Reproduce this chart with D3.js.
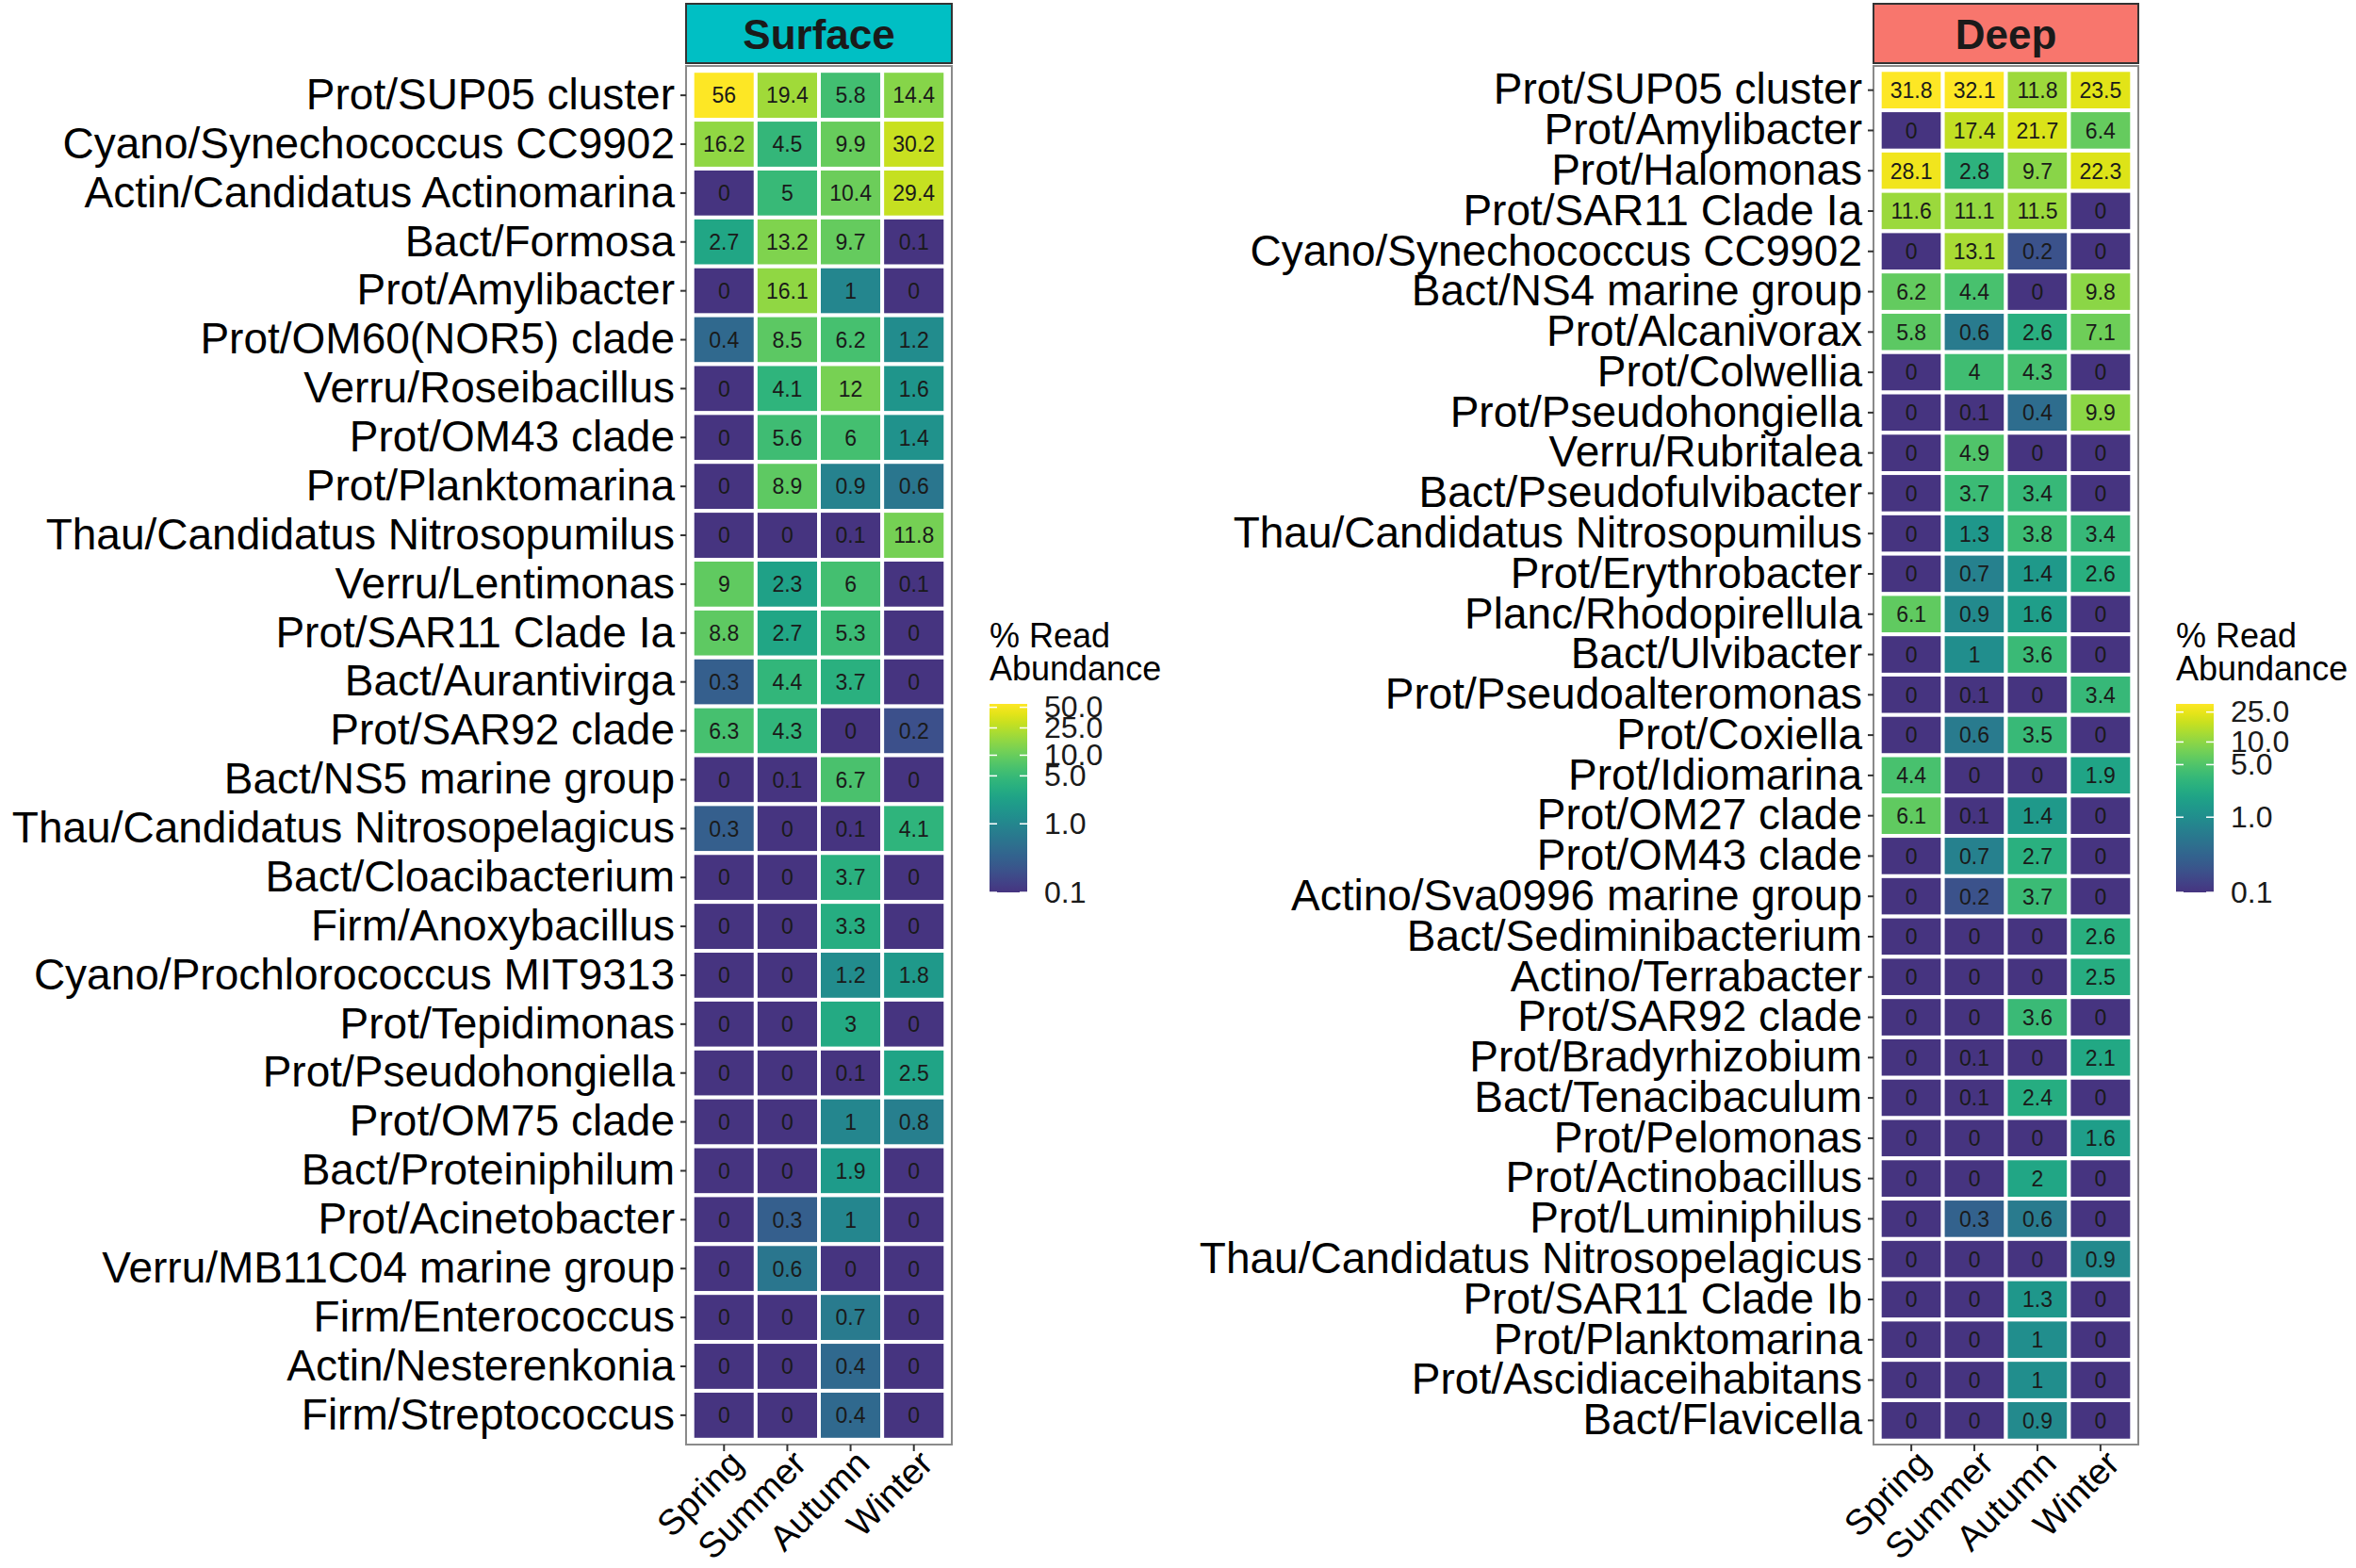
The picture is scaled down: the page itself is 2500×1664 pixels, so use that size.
<!DOCTYPE html>
<html>
<head>
<meta charset="utf-8">
<script src="https://cdn.jsdelivr.net/npm/d3@7"></script>
<style>
  body { margin: 0; background: #fff; }
  text { font-family: "Liberation Sans", Arial, sans-serif; }
</style>
</head>
<body>
<div id="chart"></div>
<script>

// seasons on the x axis
var seasons = ["Spring", "Summer", "Autumn", "Winter"];

// surface panel, top row first
var surfaceTaxa = [
  "Prot/SUP05 cluster", "Cyano/Synechococcus CC9902", "Actin/Candidatus Actinomarina",
  "Bact/Formosa", "Prot/Amylibacter", "Prot/OM60(NOR5) clade", "Verru/Roseibacillus",
  "Prot/OM43 clade", "Prot/Planktomarina", "Thau/Candidatus Nitrosopumilus",
  "Verru/Lentimonas", "Prot/SAR11 Clade Ia", "Bact/Aurantivirga", "Prot/SAR92 clade",
  "Bact/NS5 marine group", "Thau/Candidatus Nitrosopelagicus", "Bact/Cloacibacterium",
  "Firm/Anoxybacillus", "Cyano/Prochlorococcus MIT9313", "Prot/Tepidimonas",
  "Prot/Pseudohongiella", "Prot/OM75 clade", "Bact/Proteiniphilum", "Prot/Acinetobacter",
  "Verru/MB11C04 marine group", "Firm/Enterococcus", "Actin/Nesterenkonia", "Firm/Streptococcus"
];
var surfaceValues = [
  [56, 19.4, 5.8, 14.4], [16.2, 4.5, 9.9, 30.2], [0, 5, 10.4, 29.4],
  [2.7, 13.2, 9.7, 0.1], [0, 16.1, 1, 0], [0.4, 8.5, 6.2, 1.2], [0, 4.1, 12, 1.6],
  [0, 5.6, 6, 1.4], [0, 8.9, 0.9, 0.6], [0, 0, 0.1, 11.8],
  [9, 2.3, 6, 0.1], [8.8, 2.7, 5.3, 0], [0.3, 4.4, 3.7, 0], [6.3, 4.3, 0, 0.2],
  [0, 0.1, 6.7, 0], [0.3, 0, 0.1, 4.1], [0, 0, 3.7, 0],
  [0, 0, 3.3, 0], [0, 0, 1.2, 1.8], [0, 0, 3, 0],
  [0, 0, 0.1, 2.5], [0, 0, 1, 0.8], [0, 0, 1.9, 0], [0, 0.3, 1, 0],
  [0, 0.6, 0, 0], [0, 0, 0.7, 0], [0, 0, 0.4, 0], [0, 0, 0.4, 0]
];
var surfaceLegendTicks = [0.1, 1, 5, 10, 25, 50];

// deep panel, top row first
var deepTaxa = [
  "Prot/SUP05 cluster", "Prot/Amylibacter", "Prot/Halomonas", "Prot/SAR11 Clade Ia",
  "Cyano/Synechococcus CC9902", "Bact/NS4 marine group", "Prot/Alcanivorax", "Prot/Colwellia",
  "Prot/Pseudohongiella", "Verru/Rubritalea", "Bact/Pseudofulvibacter",
  "Thau/Candidatus Nitrosopumilus", "Prot/Erythrobacter", "Planc/Rhodopirellula",
  "Bact/Ulvibacter", "Prot/Pseudoalteromonas", "Prot/Coxiella", "Prot/Idiomarina",
  "Prot/OM27 clade", "Prot/OM43 clade", "Actino/Sva0996 marine group",
  "Bact/Sediminibacterium", "Actino/Terrabacter", "Prot/SAR92 clade", "Prot/Bradyrhizobium",
  "Bact/Tenacibaculum", "Prot/Pelomonas", "Prot/Actinobacillus", "Prot/Luminiphilus",
  "Thau/Candidatus Nitrosopelagicus", "Prot/SAR11 Clade Ib", "Prot/Planktomarina",
  "Prot/Ascidiaceihabitans", "Bact/Flavicella"
];
var deepValues = [
  [31.8, 32.1, 11.8, 23.5], [0, 17.4, 21.7, 6.4], [28.1, 2.8, 9.7, 22.3], [11.6, 11.1, 11.5, 0],
  [0, 13.1, 0.2, 0], [6.2, 4.4, 0, 9.8], [5.8, 0.6, 2.6, 7.1], [0, 4, 4.3, 0],
  [0, 0.1, 0.4, 9.9], [0, 4.9, 0, 0], [0, 3.7, 3.4, 0],
  [0, 1.3, 3.8, 3.4], [0, 0.7, 1.4, 2.6], [6.1, 0.9, 1.6, 0],
  [0, 1, 3.6, 0], [0, 0.1, 0, 3.4], [0, 0.6, 3.5, 0], [4.4, 0, 0, 1.9],
  [6.1, 0.1, 1.4, 0], [0, 0.7, 2.7, 0], [0, 0.2, 3.7, 0],
  [0, 0, 0, 2.6], [0, 0, 0, 2.5], [0, 0, 3.6, 0], [0, 0.1, 0, 2.1],
  [0, 0.1, 2.4, 0], [0, 0, 0, 1.6], [0, 0, 2, 0], [0, 0.3, 0.6, 0],
  [0, 0, 0, 0.9], [0, 0, 1.3, 0], [0, 0, 1, 0],
  [0, 0, 1, 0], [0, 0, 0.9, 0]
];
var deepLegendTicks = [0.1, 1, 5, 10, 25];

var W = 2500, H = 1664;
var svg = d3.select("#chart").append("svg")
  .attr("width", W).attr("height", H);

// the fill starts a little above the darkest viridis purple
function viridis(t) { return d3.interpolateViridis(0.15 + 0.85 * t); }

function drawPanel(opt) {
  var x = d3.scaleBand().domain(seasons)
    .range([opt.left, opt.left + opt.width]).paddingOuter(0.1);
  var y = d3.scaleBand().domain(opt.taxa)
    .range([opt.top, opt.bottom]).paddingOuter(0.1);
  var vmax = d3.max(opt.values, function (r) { return d3.max(r); });
  var color = d3.scaleSequentialLog(viridis).domain([0.1, vmax]).clamp(true);

  var cells = [];
  opt.taxa.forEach(function (t, i) {
    seasons.forEach(function (s, j) {
      cells.push({ taxon: t, season: s, value: opt.values[i][j] });
    });
  });

  var g = svg.append("g");

  // strip
  g.append("rect")
    .attr("x", opt.left).attr("y", 4)
    .attr("width", opt.width).attr("height", 63)
    .attr("fill", opt.stripColor)
    .attr("stroke", "#333").attr("stroke-width", 2);
  g.append("text")
    .attr("x", opt.left + opt.width / 2).attr("y", 36)
    .attr("dy", "0.36em")
    .attr("text-anchor", "middle")
    .style("font-size", "44px").style("font-weight", "bold")
    .attr("fill", "#1a1a1a")
    .text(opt.title);

  // tiles
  g.selectAll("rect.tile").data(cells).enter()
    .append("rect").attr("class", "tile")
    .attr("x", function (d) { return x(d.season); })
    .attr("y", function (d) { return y(d.taxon); })
    .attr("width", x.bandwidth())
    .attr("height", y.bandwidth())
    .attr("fill", function (d) { return color(Math.max(d.value, 0.1)); })
    .attr("stroke", "#fff").attr("stroke-width", 4);

  g.selectAll("text.val").data(cells).enter()
    .append("text").attr("class", "val")
    .attr("x", function (d) { return x(d.season) + x.bandwidth() / 2; })
    .attr("y", function (d) { return y(d.taxon) + y.bandwidth() / 2; })
    .attr("dy", "0.36em")
    .attr("text-anchor", "middle")
    .style("font-size", "23px")
    .attr("fill", "#1a1a1a")
    .text(function (d) { return d.value; });

  // panel border
  g.append("rect")
    .attr("x", opt.left).attr("y", opt.top)
    .attr("width", opt.width).attr("height", opt.bottom - opt.top)
    .attr("fill", "none").attr("stroke", "#8a8a8a").attr("stroke-width", 2);

  // y axis
  var ya = g.append("g")
    .attr("transform", "translate(" + opt.left + ",0)")
    .call(d3.axisLeft(y).tickSize(6).tickPadding(6));
  ya.select(".domain").remove();
  ya.selectAll("line").attr("stroke", "#333").attr("stroke-width", 2);
  ya.selectAll("text")
    .style("font-size", "46px").style("font-family", "'Liberation Sans', Arial, sans-serif")
    .attr("fill", "#000");

  // x axis
  var xa = g.append("g")
    .attr("transform", "translate(0," + opt.bottom + ")")
    .call(d3.axisBottom(x).tickSize(7).tickPadding(0));
  xa.select(".domain").remove();
  xa.selectAll("line").attr("stroke", "#333").attr("stroke-width", 2);
  xa.selectAll("text")
    .style("font-size", "38px").style("font-family", "'Liberation Sans', Arial, sans-serif")
    .attr("fill", "#000")
    .attr("text-anchor", "end")
    .attr("y", 0).attr("dy", "0.72em")
    .attr("transform", "translate(3,3) rotate(-45)");

  // legend
  var lg = svg.append("g");
  lg.append("text").attr("x", opt.legendX).attr("y", 687)
    .style("font-size", "36px").attr("fill", "#000").text("% Read");
  lg.append("text").attr("x", opt.legendX).attr("y", 722)
    .style("font-size", "36px").attr("fill", "#000").text("Abundance");

  var barTop = 747, barBot = 947, barW = 40;
  var gid = "grad" + opt.title;
  var grad = svg.append("defs").append("linearGradient")
    .attr("id", gid).attr("x1", 0).attr("y1", 1).attr("x2", 0).attr("y2", 0);
  d3.range(0, 1.0001, 0.05).forEach(function (t) {
    grad.append("stop").attr("offset", t).attr("stop-color", viridis(t));
  });
  lg.append("rect")
    .attr("x", opt.legendX).attr("y", barTop)
    .attr("width", barW).attr("height", barBot - barTop)
    .attr("fill", "url(#" + gid + ")");

  var ls = d3.scaleLog().domain([0.1, vmax]).range([barBot, barTop]);
  var la = lg.append("g")
    .attr("transform", "translate(" + (opt.legendX + barW) + ",0)")
    .call(d3.axisRight(ls).tickValues(opt.legendTicks)
      .tickFormat(d3.format(".1f")).tickSize(0).tickPadding(18));
  la.select(".domain").remove();
  la.selectAll("text")
    .style("font-size", "32px").style("font-family", "'Liberation Sans', Arial, sans-serif")
    .attr("fill", "#1a1a1a");

  // white tick marks on both edges of the bar
  opt.legendTicks.forEach(function (v) {
    [[0, 8], [barW - 8, barW]].forEach(function (p) {
      lg.append("line")
        .attr("x1", opt.legendX + p[0]).attr("x2", opt.legendX + p[1])
        .attr("y1", ls(v)).attr("y2", ls(v))
        .attr("stroke", "#fff").attr("stroke-width", 1.5);
    });
  });
}

drawPanel({
  title: "Surface", stripColor: "#00BFC4",
  taxa: surfaceTaxa, values: surfaceValues, legendTicks: surfaceLegendTicks,
  left: 728, width: 282, top: 70, bottom: 1533, legendX: 1050
});

drawPanel({
  title: "Deep", stripColor: "#F8766D",
  taxa: deepTaxa, values: deepValues, legendTicks: deepLegendTicks,
  left: 1988, width: 281, top: 70, bottom: 1533, legendX: 2309
});

</script>
</body>
</html>
